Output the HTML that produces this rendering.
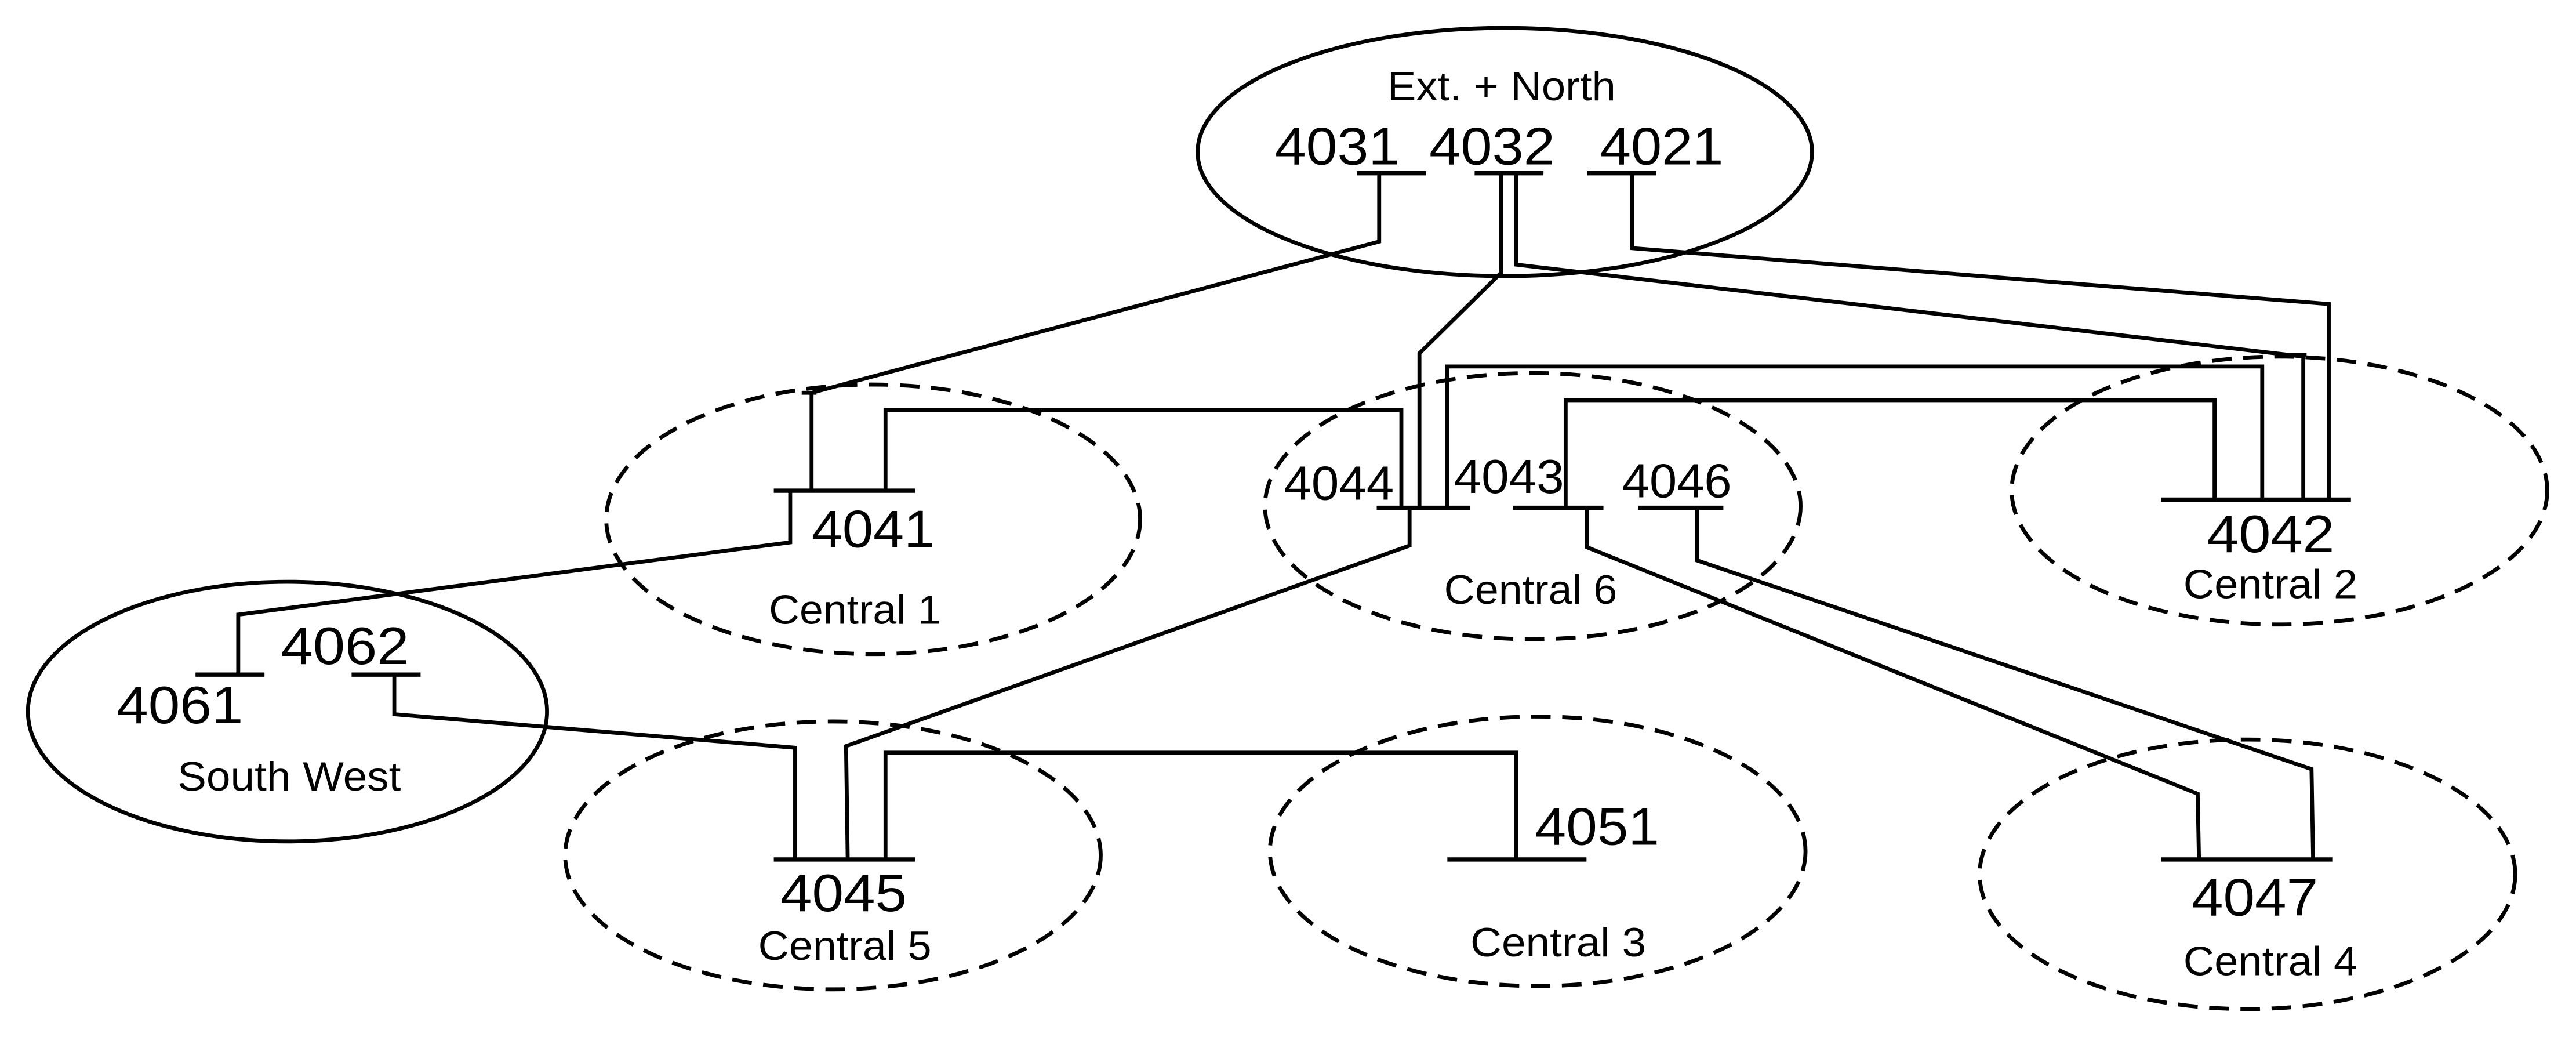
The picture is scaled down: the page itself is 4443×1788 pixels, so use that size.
<!DOCTYPE html>
<html><head><meta charset="utf-8"><style>html,body{margin:0;padding:0;background:#fff;overflow:hidden}svg{display:block}</style></head>
<body>
<svg xmlns="http://www.w3.org/2000/svg" width="4443" height="1788" viewBox="0 0 1568 631" preserveAspectRatio="none">
<rect width="1568" height="631" fill="#fff"/>
<g fill="none" stroke="#000" stroke-width="2.4">
<ellipse cx="916" cy="92.5" rx="187" ry="75.5"/>
<ellipse cx="175" cy="433" rx="158" ry="79"/>
<g stroke-dasharray="12 7">
<ellipse cx="531.5" cy="316" rx="162.5" ry="82"/>
<ellipse cx="933" cy="308" rx="163" ry="81"/>
<ellipse cx="1387.5" cy="298.5" rx="163" ry="81.5"/>
<ellipse cx="507" cy="520.5" rx="163" ry="81.5"/>
<ellipse cx="936" cy="518" rx="163" ry="82"/>
<ellipse cx="1368" cy="532" rx="163" ry="82"/>
</g>
<!-- bars -->
<g stroke-width="2.6">
<line x1="826" y1="105.4" x2="868" y2="105.4"/>
<line x1="897.6" y1="105.4" x2="939.5" y2="105.4"/>
<line x1="966" y1="105.4" x2="1008" y2="105.4"/>
<line x1="471" y1="298.6" x2="557" y2="298.6"/>
<line x1="838" y1="309" x2="895" y2="309"/>
<line x1="921" y1="309" x2="976" y2="309"/>
<line x1="997" y1="309" x2="1049" y2="309"/>
<line x1="1315.5" y1="304" x2="1431" y2="304"/>
<line x1="119" y1="410.5" x2="161" y2="410.5"/>
<line x1="214" y1="410.5" x2="256" y2="410.5"/>
<line x1="471" y1="523" x2="557" y2="523"/>
<line x1="881" y1="523" x2="965.7" y2="523"/>
<line x1="1315.5" y1="523" x2="1420" y2="523"/>
</g>
<!-- connectors -->
<polyline points="839.5,105.4 839.5,147 494,239 494,298.6"/>
<line x1="488" y1="239" x2="497" y2="239"/>
<polyline points="539,298.6 539,249.5 853,249.5 853,309"/>
<polyline points="913.7,105.4 913.7,166 864,215 864,309"/>
<polyline points="922.8,105.4 922.8,161 1402,217 1402,304"/>
<line x1="1394" y1="216" x2="1404" y2="216"/>
<polyline points="993.5,105.4 993.5,151 1417.5,185 1417.5,304"/>
<polyline points="881,309 881,223 1377,223 1377,304"/>
<polyline points="953,309 953,243.5 1348,243.5 1348,304"/>
<polyline points="966,309 966,333 1337.7,483 1338.5,523"/>
<polyline points="1033,309 1033,341 1407,468 1408,523"/>
<polyline points="481,298.6 481,330 145,374 145,410.5"/>
<polyline points="240,410.5 240,434.6 484,455 484,523"/>
<polyline points="858,309 858,332 515,454 516,523"/>
<polyline points="539,523 539,458 923,458 923,523"/>
</g>
<g font-family="Liberation Sans, Arial, sans-serif" fill="#000">
<g font-size="32">
<text x="776" y="100" textLength="76" lengthAdjust="spacingAndGlyphs">4031</text>
<text x="870" y="100" textLength="76.5" lengthAdjust="spacingAndGlyphs">4032</text>
<text x="974" y="100" textLength="75" lengthAdjust="spacingAndGlyphs">4021</text>
<text x="494" y="333" textLength="75" lengthAdjust="spacingAndGlyphs">4041</text>
<text x="71" y="440" textLength="77" lengthAdjust="spacingAndGlyphs">4061</text>
<text x="171" y="404" textLength="78" lengthAdjust="spacingAndGlyphs">4062</text>
<text x="475" y="554.5" textLength="77" lengthAdjust="spacingAndGlyphs">4045</text>
<text x="934.4" y="514" textLength="75.6" lengthAdjust="spacingAndGlyphs">4051</text>
<text x="1334" y="557" textLength="77" lengthAdjust="spacingAndGlyphs">4047</text>
<text x="1343.3" y="336" textLength="77.7" lengthAdjust="spacingAndGlyphs">4042</text>
</g>
<g font-size="29">
<text x="781.5" y="304" textLength="67" lengthAdjust="spacingAndGlyphs">4044</text>
<text x="885" y="300" textLength="67" lengthAdjust="spacingAndGlyphs">4043</text>
<text x="987.4" y="302.6" textLength="66.6" lengthAdjust="spacingAndGlyphs">4046</text>
</g>
<g font-size="25">
<text x="844.5" y="61" textLength="139" lengthAdjust="spacingAndGlyphs">Ext. + North</text>
<text x="468" y="379.5" textLength="105" lengthAdjust="spacingAndGlyphs">Central 1</text>
<text x="879" y="367.4" textLength="105.4" lengthAdjust="spacingAndGlyphs">Central 6</text>
<text x="1329" y="364" textLength="106" lengthAdjust="spacingAndGlyphs">Central 2</text>
<text x="108" y="481" textLength="136" lengthAdjust="spacingAndGlyphs">South West</text>
<text x="461.5" y="584" textLength="105.5" lengthAdjust="spacingAndGlyphs">Central 5</text>
<text x="895" y="582" textLength="107" lengthAdjust="spacingAndGlyphs">Central 3</text>
<text x="1329" y="593.5" textLength="106" lengthAdjust="spacingAndGlyphs">Central 4</text>
</g>
</g>
</svg>
</body></html>
